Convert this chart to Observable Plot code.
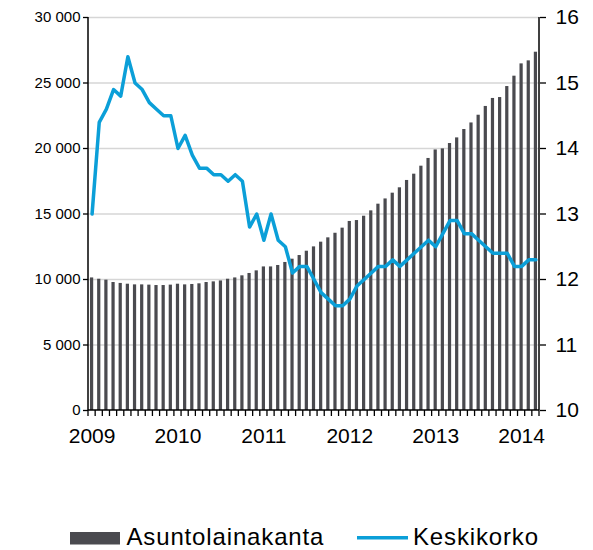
<!DOCTYPE html>
<html>
<head>
<meta charset="utf-8">
<script src="https://cdn.jsdelivr.net/npm/d3@7"></script>
<script src="https://cdn.jsdelivr.net/npm/@observablehq/plot@0.6"></script>
<style>
  html, body { margin: 0; padding: 0; background: #fff; }
  #chart svg { display: block; }
  #legend { display: block; }
</style>
</head>
<body>
<div id="chart"></div>
<svg id="legend" width="593" height="90" xmlns="http://www.w3.org/2000/svg"></svg>
<script>
// ---- Data ----
const startYear = 2009;
const monthCount = 63; // 2009-01 .. 2014-03
const months = d3.range(monthCount).map(i => {
  const y = startYear + Math.floor(i / 12), m = (i % 12) + 1;
  return `${y}-${String(m).padStart(2, "0")}`;
});
const yearLabels = ["2009", "2010", "2011", "2012", "2013", "2014"];

// Asuntolainakanta (left axis)
const loanStock = [
  10120, 10020, 9950, 9770, 9700, 9640, 9590, 9590, 9570, 9540, 9540, 9570,
  9640, 9590, 9620, 9670, 9770, 9820, 9890, 10020, 10120, 10280, 10460, 10660,
  10960, 10960, 11070, 11300, 11550, 11830, 12160, 12490, 12850, 13180, 13530, 13920,
  14430, 14500, 14830, 15240, 15750, 16150, 16590, 17000, 17560, 18040, 18650, 19240,
  19890, 19970, 20380, 20810, 21450, 21950, 22540, 23210, 23820, 23890, 24730, 25520,
  26460, 26690, 27350
];
// Keskikorko (right axis)
const avgRate = [
  13.0, 14.4, 14.6, 14.9, 14.8, 15.4, 15.0, 14.9, 14.7, 14.6, 14.5, 14.5,
  14.0, 14.2, 13.9, 13.7, 13.7, 13.6, 13.6, 13.5, 13.6, 13.5, 12.8, 13.0,
  12.6, 13.0, 12.6, 12.5, 12.1, 12.2, 12.2, 12.0, 11.8, 11.7, 11.6, 11.6,
  11.7, 11.9, 12.0, 12.1, 12.2, 12.2, 12.3, 12.2, 12.3, 12.4, 12.5, 12.6,
  12.5, 12.7, 12.9, 12.9, 12.7, 12.7, 12.6, 12.5, 12.4, 12.4, 12.4, 12.2,
  12.2, 12.3, 12.3
];
const leftTicks = [0, 5000, 10000, 15000, 20000, 25000, 30000];
const rightTicks = [10, 11, 12, 13, 14, 15, 16];
const seriesNames = ["Asuntolainakanta", "Keskikorko"];

// ---- Style ----
const FONT = "'Liberation Sans', Arial, Helvetica, sans-serif";
const BAR = "#4a4a4f";
const LINE = "#0b9fd8";
const GRID = "#d6d6d6";
const PADI = 0.55, PADO = 0.275;

// right axis maps 10..16 onto left 0..30000
const rMin = rightTicks[0], rMax = rightTicks[rightTicks.length - 1];
const lMax = leftTicks[leftTicks.length - 1];
const toLeft = v => (v - rMin) / (rMax - rMin) * lMax;
const fromLeft = d => rMin + d / lMax * (rMax - rMin);

const rows = months.map((m, i) => ({month: m, loans: loanStock[i], rate: avgRate[i]}));
const fmt = d3.formatLocale({thousands: " ", grouping: [3], decimal: ","}).format(",d");

function frameAxes(...args) {
  let scales, dims;
  if (args.length >= 4) { scales = args[1]; dims = args[3]; } else { scales = args[0]; dims = args[1]; }
  const {width, height, marginLeft, marginRight, marginTop, marginBottom} = dims;
  const x0 = marginLeft, x1 = width - marginRight, yTop = marginTop, yBot = height - marginBottom;
  const g = d3.create("svg:g").attr("stroke", "#000").attr("fill", "none");
  // month boundary ticks
  let start = x0, step = (x1 - x0) / months.length;
  if (scales && typeof scales.x === "function") {
    const a = scales.x(months[0]), b = scales.x(months[1]);
    if (isFinite(a) && isFinite(b)) { step = b - a; start = a - step * PADO; }
  }
  for (let k = 0; k <= months.length; k++) {
    const xx = start + k * step;
    g.append("line").attr("x1", xx).attr("x2", xx).attr("y1", yBot).attr("y2", yBot + 6).attr("stroke-width", 1.3);
  }
  g.append("line").attr("x1", x0).attr("x2", x0).attr("y1", yTop).attr("y2", yBot).attr("stroke-width", 1.5);
  g.append("line").attr("x1", x1).attr("x2", x1).attr("y1", yTop).attr("y2", yBot).attr("stroke-width", 1.5);
  g.append("line").attr("x1", x0).attr("x2", x1).attr("y1", yBot).attr("y2", yBot).attr("stroke-width", 1.5);
  return g.node();
}

const chart = Plot.plot({
  width: 593,
  height: 460,
  marginLeft: 88,
  marginRight: 54,
  marginTop: 17,
  marginBottom: 50,
  style: {fontFamily: FONT, color: "#000", background: "#fff", overflow: "visible"},
  x: {type: "band", domain: months, paddingInner: PADI, paddingOuter: PADO, round: false, axis: null, label: null},
  y: {domain: [0, lMax], axis: null, label: null},
  marks: [
    Plot.ruleY(leftTicks.filter(d => d > 0), {stroke: GRID, strokeWidth: 1.3}),
    Plot.barY(rows, {x: "month", y: "loans", fill: BAR}),
    Plot.line(rows, {x: "month", y: d => toLeft(d.rate), stroke: LINE, strokeWidth: 3.5, strokeLinejoin: "round", strokeLinecap: "round"}),
    Plot.axisY({anchor: "left", label: null, ticks: leftTicks, tickFormat: fmt, tickSize: 5, tickPadding: 3, fontSize: 15, strokeWidth: 1.3}),
    Plot.axisY({anchor: "right", label: null, ticks: rightTicks.map(toLeft), tickFormat: d => String(Math.round(fromLeft(d))), tickSize: 6, tickPadding: 10, fontSize: 21, strokeWidth: 1.3}),
    Plot.axisX({anchor: "bottom", label: null, ticks: months.filter(m => m.endsWith("-01")), tickFormat: m => yearLabels[yearLabels.indexOf(m.slice(0, 4))], tickSize: 0, tickPadding: 18, fontSize: 21}),
    frameAxes
  ]
});
document.getElementById("chart").appendChild(chart);

// ---- Legend (below the chart) ----
const lg = d3.select("#legend").style("font-family", FONT);
lg.append("rect").attr("x", 70).attr("y", 72).attr("width", 50).attr("height", 12.5).attr("fill", BAR);
lg.append("text").attr("x", 126.5).attr("y", 85).attr("font-size", 24).attr("letter-spacing", 0.85).attr("fill", "#000").text(seriesNames[0]);
lg.append("line").attr("x1", 357).attr("x2", 408).attr("y1", 77.7).attr("y2", 77.7).attr("stroke", LINE).attr("stroke-width", 3.5);
lg.append("text").attr("x", 413).attr("y", 85).attr("font-size", 24).attr("letter-spacing", 0.85).attr("fill", "#000").text(seriesNames[1]);
</script>
</body>
</html>
